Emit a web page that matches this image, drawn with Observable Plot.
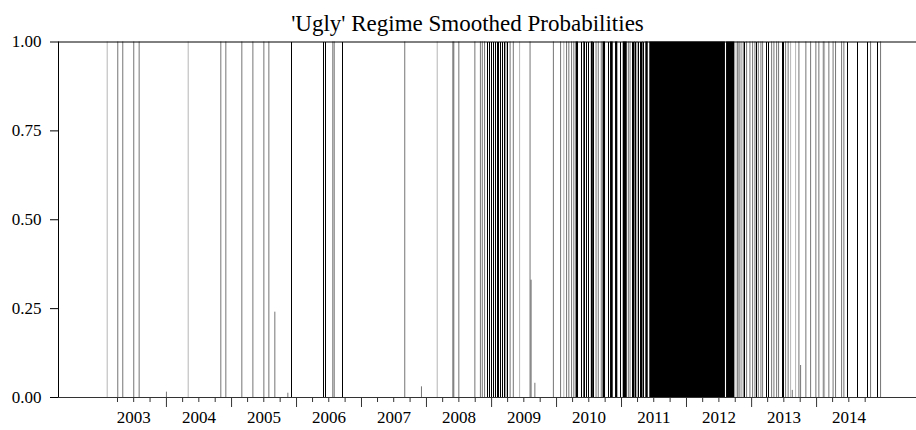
<!DOCTYPE html>
<html>
<head>
<meta charset="utf-8">
<script src="https://cdn.jsdelivr.net/npm/d3@7"></script>
<script src="https://cdn.jsdelivr.net/npm/@observablehq/plot@0.6"></script>
<style>
  html, body { margin: 0; padding: 0; background: #fff; }
  #chart { width: 916px; height: 430px; overflow: hidden; }
  #chart svg, #chart svg text { font-family: "Liberation Serif", "Times New Roman", serif !important; }
</style>
</head>
<body>
<div id="chart"></div>
<script>
// ---- Data (decimal years) ----
const chartTitle = "'Ugly' Regime Smoothed Probabilities";

// faint one-day spikes (probability ~1)
const lightSpikeYears = [2003.088, 2004.334, 2008.165, 2009.431, 2010.112, 2012.762, 2012.800, 2012.846, 2013.600, 2013.677, 2014.123];

// one-day spikes (grey)
const graySpikeYears = [
  2003.251, 2003.328, 2003.497, 2003.580, 2004.000, 2004.835, 2004.912, 2005.158, 2005.328, 2005.497, 2005.574,
  2005.666, 2005.866, 2006.558, 2006.580, 2007.666, 2007.923, 2008.405, 2008.420, 2008.497, 2008.743, 2008.828,
  2008.857, 2008.892, 2009.220, 2009.285, 2009.334, 2009.592, 2009.608, 2009.666, 2009.951, 2010.062, 2010.154,
  2010.189, 2010.231, 2010.266, 2010.608, 2010.642, 2010.688, 2011.105, 2011.131, 2011.200, 2011.238, 2011.323,
  2012.785, 2012.820, 2012.872, 2012.923, 2012.974, 2013.015, 2013.051, 2013.103, 2013.143, 2013.169, 2013.308,
  2013.343, 2013.385, 2013.415, 2013.523, 2013.562, 2013.626, 2013.728, 2013.754, 2013.835, 2013.908, 2013.989,
  2014.035, 2014.103, 2014.189, 2014.254, 2014.292, 2014.385, 2014.420, 2014.831, 2014.985
];
const graySpikeValues = [
  1, 1, 1, 1, 0.015, 1, 1, 1, 1, 1, 1,
  0.24, 0.012, 1, 1, 1, 0.03, 1, 1, 1, 1, 1,
  1, 1, 1, 1, 1, 1, 0.33, 0.04, 1, 1, 1,
  1, 1, 1, 1, 1, 1, 1, 1, 1, 1, 1,
  1, 1, 1, 1, 1, 1, 1, 1, 1, 1, 1,
  1, 1, 1, 1, 1, 0.02, 1, 0.09, 1, 1, 1,
  1, 1, 1, 1, 1, 1, 1, 1, 1
];

// multi-day episodes at probability 1 (thin black lines)
const blackLineYears = [
  2005.923, 2006.420, 2006.442, 2006.712,
  2008.943, 2008.974, 2009.005, 2009.035, 2009.062, 2009.088, 2009.112, 2009.138, 2009.169, 2009.195, 2009.251,
  2010.385, 2010.423, 2010.462, 2010.497, 2010.535, 2010.565, 2010.795, 2010.985,
  2011.165, 2011.180, 2011.215, 2011.257, 2011.285, 2011.308, 2011.343,
  2012.897, 2013.077, 2013.223, 2013.258, 2013.469, 2013.497,
  2014.472, 2014.626, 2014.789, 2014.931
];

// long spells in the regime
const blockStartYears = [2010.300, 2010.420, 2010.535, 2010.715, 2010.831, 2010.908, 2011.026, 2011.374, 2011.435, 2012.615];
const blockEndYears   = [2010.338, 2010.436, 2010.566, 2010.754, 2010.872, 2010.943, 2011.088, 2011.411, 2012.598, 2012.743];
const blockValues     = [1, 1, 1, 1, 1, 1, 1, 1, 1, 1];

const yTicks = [0, 0.25, 0.5, 0.75, 1];
const yearLabels = [2003, 2004, 2005, 2006, 2007, 2008, 2009, 2010, 2011, 2012, 2013, 2014];
const majorTickYears = [2004, 2005, 2006, 2007, 2008, 2009, 2010, 2011, 2012, 2013, 2014];
const axisStartYear = 2002.3385, axisEndYear = 2015.538;

// ---- helpers ----
const toDate = (y) => {
  const Y = Math.floor(y);
  const s = Date.UTC(Y, 0, 1), e = Date.UTC(Y + 1, 0, 1);
  return new Date(s + (y - Y) * (e - s));
};
const lightSpikes = lightSpikeYears.map(y => ({date: toDate(y), value: 1}));
const graySpikes = graySpikeYears.map((y, i) => ({date: toDate(y), value: graySpikeValues[i]}));
const blackLines = blackLineYears.map(y => ({date: toDate(y), value: 1}));
const blocks = blockStartYears.map((s, i) => ({start: toDate(s), end: toDate(blockEndYears[i]), value: blockValues[i]}));
const xDomain = [toDate(axisStartYear), toDate(axisEndYear)];

const minorTicks = d3.utcMonth.every(3).range(new Date(Date.UTC(2003, 3, 1)), new Date(Date.UTC(2014, 10, 1)))
  .filter(d => d.getUTCMonth() !== 0);
const majorTicks = majorTickYears.map(y => new Date(Date.UTC(y, 0, 1)));
const labelDates = yearLabels.map(y => new Date(Date.UTC(y, 6, 2)));
const serif = "Liberation Serif";

const chart = Plot.plot({
  width: 916,
  height: 430,
  marginLeft: 58,
  marginRight: 0,
  marginTop: 41.5,
  marginBottom: 33,
  x: {type: "utc", domain: xDomain, axis: null, label: null},
  y: {domain: [0, 1], axis: null, label: null},
  style: {fontFamily: serif, fontSize: "17px", background: "#fff", color: "#000", overflow: "visible"},
  marks: [
    Plot.rectY(blocks, {x1: "start", x2: "end", y1: 0, y2: "value", fill: "#000", shapeRendering: "geometricPrecision"}),
    Plot.ruleX(lightSpikes, {x: "date", y1: 0, y2: "value", stroke: "#000", strokeWidth: 0.3, shapeRendering: "geometricPrecision"}),
    Plot.ruleX(graySpikes, {x: "date", y1: 0, y2: "value", stroke: "#000", strokeWidth: 0.55, shapeRendering: "geometricPrecision"}),
    Plot.ruleX(blackLines, {x: "date", y1: 0, y2: "value", stroke: "#000", strokeWidth: 1, shapeRendering: "crispEdges"}),
    Plot.ruleY([1], {stroke: "#000", strokeWidth: 1}),
    Plot.ruleY([0], {stroke: "#333", strokeWidth: 1}),
    Plot.ruleX([xDomain[0]], {y1: 0, y2: 1, stroke: "#000", strokeWidth: 1}),
    Plot.axisY({ticks: yTicks, tickSize: 8, tickPadding: 9, tickFormat: d3.format(".2f"), stroke: "#000", fontSize: 17, fontFamily: serif, label: null}),
    Plot.axisX({ticks: minorTicks, tickSize: 5, tickFormat: () => "", stroke: "#333", label: null}),
    Plot.axisX({ticks: majorTicks, tickSize: 10, tickFormat: () => "", stroke: "#333", label: null}),
    Plot.axisX({ticks: labelDates, tickSize: 0, tickPadding: 13, tickFormat: d3.utcFormat("%Y"), fontSize: 17, fontFamily: serif, label: null}),
    Plot.text([chartTitle], {frameAnchor: "top-left", dx: 409, dy: -11.5, textAnchor: "middle", lineAnchor: "bottom", fontSize: 23, fontFamily: serif})
  ]
});
document.getElementById("chart").appendChild(chart);
</script>
</body>
</html>
